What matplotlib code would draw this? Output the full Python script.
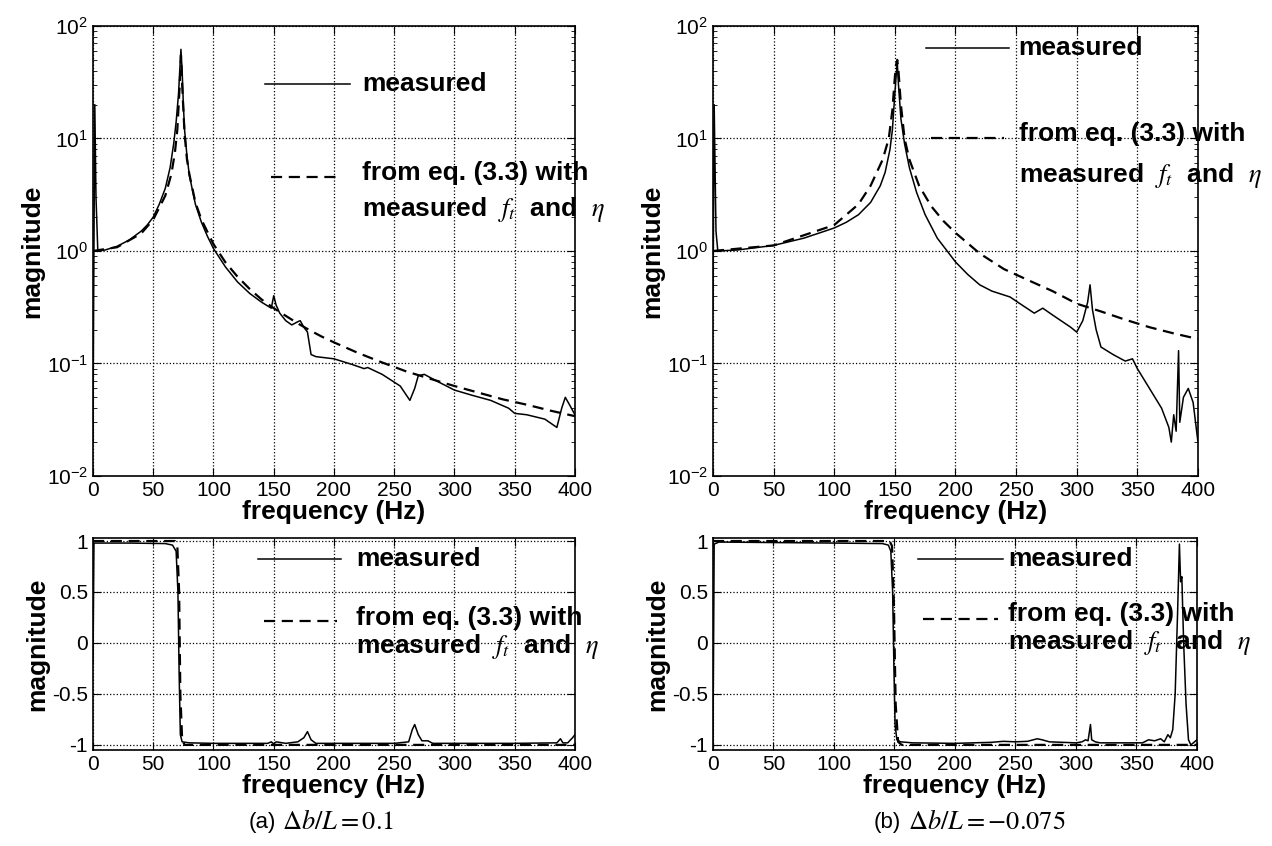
import numpy as np
import matplotlib
matplotlib.use("Agg")
import matplotlib.pyplot as plt
from matplotlib.ticker import LogLocator, NullFormatter

plt.rcParams['font.family'] = ['Liberation Sans', 'DejaVu Sans']
plt.rcParams['mathtext.fontset'] = 'stix'
plt.rcParams['axes.unicode_minus'] = False

# (a) db/L = 0.1 : magnitude, measured
fa_meas = [0, 0.5, 1.5, 2.5, 4, 10, 20, 30, 40, 45, 50, 55, 60, 64, 67, 69, 71, 72, 73, 74, 75, 76, 78, 80,
           85, 90, 95, 100, 110, 120, 130, 140, 148, 150, 152, 155, 160, 165, 170, 172, 175, 178, 181, 185,
           200, 215, 225, 228, 240, 255, 263, 267, 270, 275, 285, 300, 315, 330, 345, 350, 360, 375, 385,
           389, 392, 396, 400]
ma_meas = [0.02, 0.3, 20, 3, 1.0, 1.02, 1.1, 1.25, 1.5, 1.7, 2.0, 2.6, 3.6, 5.5, 9, 14, 25, 40, 62, 40, 20, 12, 7, 4.7,
           2.6, 1.8, 1.35, 1.05, 0.72, 0.53, 0.42, 0.35, 0.31, 0.4, 0.33, 0.28, 0.24, 0.22, 0.235, 0.24, 0.21, 0.19,
           0.12, 0.115, 0.11, 0.098, 0.09, 0.092, 0.08, 0.063, 0.047, 0.06, 0.078, 0.08, 0.07, 0.058, 0.052,
           0.047, 0.04, 0.036, 0.035, 0.032, 0.027, 0.04, 0.05, 0.042, 0.035]
# (a) magnitude, from eq. (3.3)
fa_eq = [0, 20, 40, 50, 60, 65, 68, 70, 72, 73, 74, 76, 78, 80, 85, 90, 100, 110, 120, 130, 140, 150, 160, 170,
         180, 190, 200, 220, 240, 260, 280, 300, 320, 340, 360, 380, 400]
ma_eq = [1.0, 1.08, 1.43, 1.9, 3.1, 4.8, 7.5, 12, 30, 55, 30, 11, 6.5, 4.8, 2.7, 1.9, 1.15, 0.79, 0.59, 0.46, 0.37,
         0.31, 0.265, 0.227, 0.197, 0.173, 0.154, 0.124, 0.102, 0.085, 0.073, 0.063, 0.055, 0.048, 0.043, 0.038, 0.034]
# (a) lower plot, measured
fa_low = [0, 0.8, 5, 30, 60, 66, 69, 70.5, 71.5, 72.5, 74, 80, 100, 145, 148, 150, 152, 160, 170, 175, 178, 181,
          185, 250, 262, 265, 267, 270, 273, 278, 282, 350, 385, 388, 390, 394, 398, 400]
va_low = [-0.2, 0.98, 0.98, 0.98, 0.975, 0.96, 0.9, 0.5, -0.3, -0.9, -0.97, -0.98, -0.985, -0.985, -0.97, -0.99,
          -0.97, -0.985, -0.97, -0.93, -0.87, -0.95, -0.985, -0.985, -0.97, -0.85, -0.8, -0.9, -0.96, -0.96,
          -0.985, -0.985, -0.98, -0.94, -0.98, -0.98, -0.93, -0.9]
fa_low_eq = [0, 68, 70, 71.5, 72.5, 74, 76, 400]
va_low_eq = [1.0, 1.0, 0.95, 0.5, -0.5, -0.95, -1.0, -1.0]

# (b) db/L = -0.075 : magnitude, measured
fb_meas = [0, 1, 2.5, 4, 20, 50, 75, 100, 110, 120, 130, 138, 142, 146, 148, 150, 151, 152, 153, 155, 158, 162,
           168, 175, 185, 200, 210, 220, 230, 245, 255, 265, 272, 280, 295, 300, 305, 309, 311, 313, 316, 320,
           330, 340, 346, 350, 360, 370, 376, 378, 380, 382, 384, 385, 388, 392, 396, 400]
mb_meas = [0.3, 20, 1.5, 1.0, 1.02, 1.12, 1.3, 1.6, 1.8, 2.1, 2.7, 3.8, 5, 8, 12, 25, 35, 48, 30, 15, 9, 5.5,
           3.3, 2.1, 1.3, 0.8, 0.62, 0.5, 0.44, 0.39, 0.33, 0.28, 0.31, 0.27, 0.21, 0.19, 0.24, 0.35, 0.5, 0.3,
           0.2, 0.14, 0.12, 0.105, 0.11, 0.09, 0.06, 0.04, 0.027, 0.02, 0.035, 0.025, 0.13, 0.03, 0.05, 0.06,
           0.045, 0.02]
fb_eq = [0, 50, 100, 120, 130, 140, 145, 148, 150, 151, 152, 153, 155, 158, 162, 170, 180, 190, 200, 220, 240,
         260, 280, 300, 320, 340, 360, 380, 400]
mb_eq = [1.0, 1.12, 1.7, 2.6, 3.8, 6.5, 10, 18, 35, 45, 50, 40, 20, 10, 6.5, 3.8, 2.5, 1.85, 1.45, 0.95, 0.69,
         0.55, 0.44, 0.34, 0.29, 0.245, 0.21, 0.185, 0.165]
fb_low = [0, 1, 5, 50, 100, 140, 145, 147, 148.5, 149.5, 150.5, 152, 155, 165, 200, 230, 240, 250, 260, 268, 272,
          278, 300, 305, 308, 310, 312, 313, 316, 320, 355, 360, 365, 370, 373, 376, 378, 380, 382, 384, 385.5,
          386.5, 387.5, 389, 391, 393, 395, 397, 400]
vb_low = [-1.0, 0.97, 0.99, 0.985, 0.98, 0.975, 0.96, 0.9, 0.5, -0.2, -0.8, -0.95, -0.97, -0.98, -0.985, -0.975,
          -0.965, -0.97, -0.965, -0.94, -0.95, -0.97, -0.98, -0.97, -0.95, -0.96, -0.8, -0.95, -0.97, -0.98,
          -0.98, -0.95, -0.96, -0.94, -0.97, -0.9, -0.93, -0.85, -0.5, 0.3, 0.97, 0.6, 0.65, 0.0, -0.6, -0.95,
          -1.0, -0.98, -0.95]
fb_low_eq = [0, 146, 148, 149.5, 151, 153, 156, 400]
vb_low_eq = [1.0, 1.0, 0.95, 0.4, -0.6, -0.97, -1.0, -1.0]

xticks = [0, 50, 100, 150, 200, 250, 300, 350, 400]

fig = plt.figure(figsize=(12.72, 8.46), dpi=100)
ax_tl = fig.add_axes([0.0731, 0.4374, 0.3789, 0.5319])
ax_tr = fig.add_axes([0.5605, 0.4374, 0.3813, 0.5319])
ax_bl = fig.add_axes([0.0731, 0.1135, 0.3789, 0.2506])
ax_br = fig.add_axes([0.5605, 0.1135, 0.3805, 0.2506])

lab_font = dict(fontsize=19, fontweight='bold')
dash = (5, 3)


def style(ax, log):
    ax.set_xlim(0, 400)
    ax.set_xticks(xticks)
    ax.grid(True, which='major', ls=':', color='k', lw=0.9)
    ax.tick_params(which='both', direction='in', top=True, right=True, labelsize=15)
    ax.tick_params(which='major', length=6)
    ax.tick_params(which='minor', length=3)
    for s in ax.spines.values():
        s.set_linewidth(1.2)
    if log:
        ax.set_yscale('log')
        ax.set_ylim(1e-2, 1e2)
        ax.yaxis.set_major_locator(LogLocator(base=10, numticks=10))
        ax.yaxis.set_minor_locator(LogLocator(base=10, subs=np.arange(2, 10), numticks=10))
        ax.yaxis.set_minor_formatter(NullFormatter())
    else:
        ax.set_ylim(-1.05, 1.03)
        ax.set_yticks([-1, -0.5, 0, 0.5, 1])
        ax.set_yticklabels(['-1', '-0.5', '0', '0.5', '1'])
    ax.set_xlabel('frequency (Hz)', labelpad=0, **lab_font)
    ax.set_ylabel('magnitude', labelpad=2, **lab_font)


def legend(ax, x0, x1, xd0, xd1, xt, y1, yd, y2, y3):
    ax.plot([x0, x1], [y1, y1], color='k', lw=1.1, transform=ax.transAxes, clip_on=False)
    ax.plot([xd0, xd1], [yd, yd], color='k', lw=1.6, dashes=dash, transform=ax.transAxes, clip_on=False)
    ax.text(xt, y1, 'measured', transform=ax.transAxes, va='center', **lab_font)
    ax.text(xt, y2, 'from eq. (3.3) with', transform=ax.transAxes, va='center', **lab_font)
    ax.text(xt, y3, r'measured  $f_t$  and  $\eta$', transform=ax.transAxes, va='center', **lab_font)


ax_tl.plot(fa_meas, ma_meas, color='k', lw=1.1)
ax_tl.plot(fa_eq, ma_eq, color='k', lw=1.6, dashes=dash)
style(ax_tl, True)
legend(ax_tl, 0.357, 0.533, 0.37, 0.515, 0.558, 0.87, 0.665, 0.674, 0.593)

ax_tr.plot(fb_meas, mb_meas, color='k', lw=1.1)
ax_tr.plot(fb_eq, mb_eq, color='k', lw=1.6, dashes=dash)
style(ax_tr, True)
legend(ax_tr, 0.44, 0.61, 0.45, 0.60, 0.63, 0.95, 0.75, 0.76, 0.668)

ax_bl.plot(fa_low, va_low, color='k', lw=1.1)
ax_bl.plot(fa_low_eq, va_low_eq, color='k', lw=1.6, dashes=dash)
style(ax_bl, False)
legend(ax_bl, 0.342, 0.515, 0.355, 0.507, 0.546, 0.90, 0.61, 0.624, 0.489)

ax_br.plot(fb_low, vb_low, color='k', lw=1.1)
ax_br.plot(fb_low_eq, vb_low_eq, color='k', lw=1.6, dashes=dash)
style(ax_br, False)
legend(ax_br, 0.423, 0.60, 0.433, 0.588, 0.61, 0.90, 0.618, 0.64, 0.505)

fig.text(0.217, 0.028, '(a)', fontsize=16, ha='right', va='center')
fig.text(0.222, 0.028, r'$\Delta b/L = 0.1$', fontsize=19, ha='left', va='center')
fig.text(0.708, 0.028, '(b)', fontsize=16, ha='right', va='center')
fig.text(0.714, 0.028, r'$\Delta b/L = -0.075$', fontsize=19, ha='left', va='center')

fig.savefig('out.png', dpi=100)
